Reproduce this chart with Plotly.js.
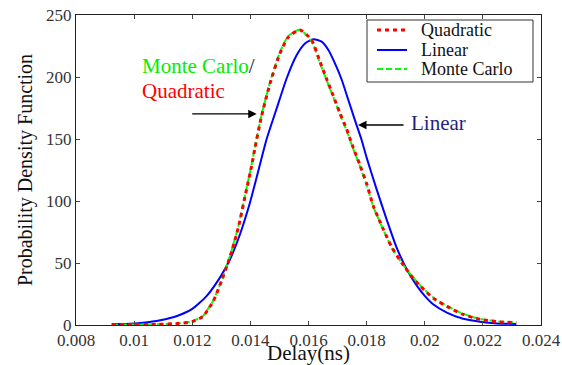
<!DOCTYPE html>
<html>
<head>
<meta charset="utf-8">
<script src="https://cdn.plot.ly/plotly-3.0.1.min.js"></script>
<style>html,body{margin:0;padding:0;background:#fff;}#chart{width:562px;height:365px;}</style>
</head>
<body>
<div id="chart"></div>
<script>
// Quadratic model PDF
const quadX = [0.00923,0.0100,0.0108,0.0115,0.0120,0.01238,0.0125,0.01272,0.0130,0.0133,0.01359,0.01382,0.01404,0.01416,0.01439,0.01468,0.0150,0.0153,0.0157,0.0161,0.0164,0.01663,0.01685,0.01708,0.01731,0.01754,0.01777,0.0180,0.01823,0.01858,0.01886,0.01921,0.01949,0.01984,0.0203,0.02076,0.02132,0.0219,0.02248,0.02315];
const quadY = [0.3,0.3,0.5,1.2,2.7,7,11,19,35,55,79,104,128,143,169,195,218,232,238,230,212,198,185,171,158,143,129,114,96,77,63,50,41,31.5,21.5,15,8.5,4.6,2.7,1.8];
// Linear model PDF
const linX = [0.00923,0.0097,0.0103,0.0109,0.0115,0.0120,0.0125,0.0130,0.0133,0.01364,0.01399,0.01427,0.01456,0.01491,0.01525,0.01559,0.01588,0.01617,0.01645,0.01668,0.01691,0.01714,0.01737,0.0176,0.01783,0.0180,0.01835,0.01869,0.01904,0.01938,0.01972,0.0200,0.0203,0.02076,0.02132,0.0219,0.02248,0.02315];
const linY = [0.8,0.9,1.8,3.8,7.5,13,23.5,40,53,73,99,124,150,175,199,217.5,227,230.4,228.5,222,211,198,181.5,165,149,135,109,85,62,45,32,23.5,16.5,10,5,2.7,1.3,0.8];
// Monte Carlo PDF
const mcX = [0.00923,0.0100,0.0108,0.0115,0.0120,0.01238,0.0125,0.01272,0.0130,0.0133,0.01359,0.01382,0.01404,0.01416,0.01439,0.01468,0.0150,0.0153,0.0157,0.0161,0.0164,0.01663,0.01685,0.01708,0.01731,0.01754,0.01777,0.0180,0.01823,0.01858,0.01886,0.01921,0.01949,0.01984,0.0203,0.02076,0.02132,0.0219,0.02248,0.02315];
const mcY = [0.3,0.4,0.6,1.3,3,7.5,11.5,19.5,35.5,56,80,105,129,144,170,196,219,233,238,229,211,197,184,170,157,142,128,113,95.5,76.5,62.5,50,41.5,32,22,15.5,9,5,3,2.2];
// Legend entries
const legendNames = ['Quadratic', 'Linear', 'Monte Carlo'];

const serif = 'Liberation Serif, Times New Roman, serif';
const colors = ['#ff0000', '#0000ff', '#00ff00'];
const dashes = ['4px,4px', 'solid', '6px,3px'];
const widths = [3, 2, 2];

const traces = [
  {x: linX, y: linY, name: legendNames[1], type: 'scatter', mode: 'lines',
   line: {color: colors[1], width: widths[1], shape: 'spline', smoothing: 0.6}},
  {x: mcX, y: mcY, name: legendNames[2], type: 'scatter', mode: 'lines',
   line: {color: colors[2], width: widths[2], dash: dashes[2], shape: 'spline', smoothing: 0.6}},
  {x: quadX, y: quadY, name: legendNames[0], type: 'scatter', mode: 'lines',
   line: {color: colors[0], width: widths[0], dash: dashes[0], shape: 'spline', smoothing: 0.6}}
];

// pixel -> paper helpers for the hand-drawn legend box (plot area 76..541 x 15..325)
const px = v => (v - 76) / 465;
const py = v => (325 - v) / 310;

const shapes = [
  {type: 'rect', xref: 'paper', yref: 'paper', x0: px(367), x1: px(533), y0: py(82), y1: py(20),
   line: {color: '#333', width: 1}, fillcolor: '#ffffff', layer: 'above'}
];
const legendRowsY = [30, 50, 69];
const annotations = [];
legendNames.forEach((n, i) => {
  shapes.push({type: 'line', xref: 'paper', yref: 'paper', x0: px(377), x1: px(407),
    y0: py(legendRowsY[i]), y1: py(legendRowsY[i]), layer: 'above',
    line: {color: colors[i], width: widths[i], dash: dashes[i]}});
  annotations.push({xref: 'paper', yref: 'paper', x: px(419), y: py(legendRowsY[i]), xanchor: 'left',
    yanchor: 'middle', showarrow: false, text: n, font: {family: serif, size: 18, color: '#111'}});
});

annotations.push(
  {x: 0.010202, y: 208.9, xref: 'x', yref: 'y', xanchor: 'left', yanchor: 'middle', showarrow: false,
   text: '<span style="color:#00ee00">Monte Carlo</span>/', font: {family: serif, size: 21, color: '#222'}},
  {x: 0.010202, y: 188.7, xref: 'x', yref: 'y', xanchor: 'left', yanchor: 'middle', showarrow: false,
   text: 'Quadratic', font: {family: serif, size: 21, color: '#ff0000'}},
  {x: 0.019459, y: 162.9, xref: 'x', yref: 'y', xanchor: 'left', yanchor: 'middle', showarrow: false,
   text: 'Linear', font: {family: serif, size: 21, color: '#1f1f80'}},
  {x: 0.014218, y: 170.2, xref: 'x', yref: 'y', text: '', showarrow: true, ax: -66, ay: 0,
   arrowhead: 2, arrowsize: 1.3, arrowwidth: 1.3, arrowcolor: '#000'},
  {x: 0.017704, y: 161.3, xref: 'x', yref: 'y', text: '', showarrow: true, ax: 47, ay: 0,
   arrowhead: 2, arrowsize: 1.3, arrowwidth: 1.3, arrowcolor: '#000'}
);

const layout = {
  width: 562, height: 365,
  margin: {l: 76, r: 21, t: 15, b: 40, pad: 0},
  paper_bgcolor: '#ffffff', plot_bgcolor: '#ffffff',
  font: {family: serif, size: 17, color: '#222'},
  showlegend: false,
  xaxis: {range: [0.008, 0.024], dtick: 0.002, tick0: 0.008, ticks: 'inside', ticklen: 4,
    tickcolor: '#444', showline: true, linecolor: '#222', linewidth: 1, mirror: 'ticks',
    showgrid: false, zeroline: false, tickfont: {family: serif, size: 17, color: '#333'},
    title: {text: 'Delay(ns)', font: {family: serif, size: 21, color: '#111'}, standoff: 0}},
  yaxis: {range: [0, 250], dtick: 50, ticks: 'inside', ticklen: 4,
    tickcolor: '#444', showline: true, linecolor: '#222', linewidth: 1, mirror: 'ticks',
    showgrid: false, zeroline: false, tickfont: {family: serif, size: 17, color: '#333'},
    title: {text: 'Probability Density Function', font: {family: serif, size: 20, color: '#111'}, standoff: 8}},
  shapes: shapes,
  annotations: annotations
};

Plotly.newPlot('chart', traces, layout, {displayModeBar: false, staticPlot: true});
</script>
</body>
</html>
